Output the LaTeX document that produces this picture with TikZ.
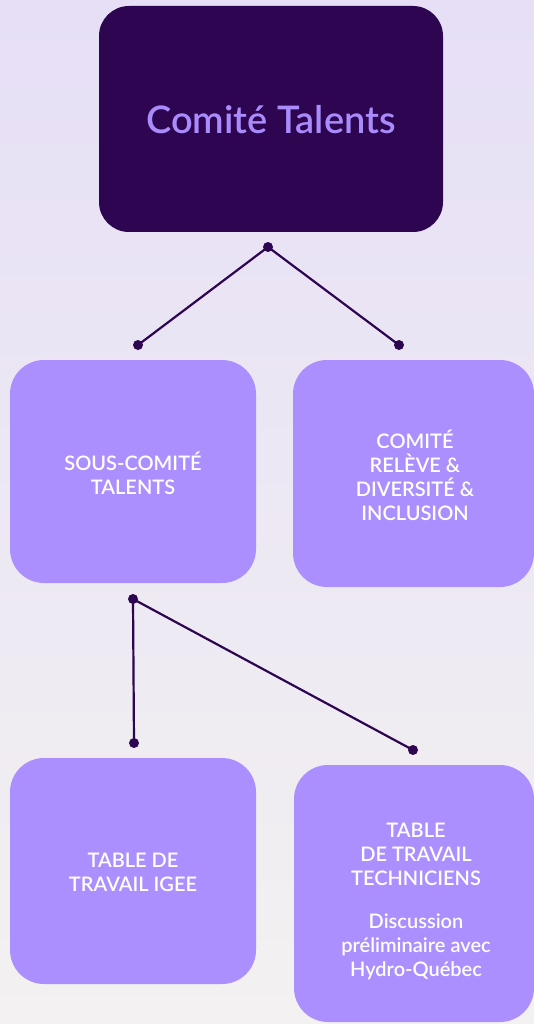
\documentclass[tikz,border=0pt]{standalone}
\usepackage{fontspec}
\setmainfont{Lato}
\newfontfamily\semib{Lato Semibold}
\definecolor{bgtop}{HTML}{E6DFF6}
\definecolor{bgbot}{HTML}{F3F1F1}
\definecolor{darkpurple}{HTML}{2D0550}
\definecolor{boxpurple}{HTML}{AB8FFE}
\definecolor{titlepurple}{HTML}{A98BFC}
\tikzset{
  topbox/.style={rectangle, rounded corners=30pt, fill=darkpurple, text=titlepurple,
    inner sep=0pt, font=\semib\fontsize{38}{44}\selectfont},
  subbox/.style={rectangle, rounded corners=34pt, fill=boxpurple, text=white,
    inner sep=0pt, align=center, font=\semib\fontsize{20}{24}\selectfont},
  dot/.style={circle, fill=darkpurple, inner sep=0pt, minimum size=10pt},
  link/.style={draw=darkpurple, line width=2.2pt}
}
\begin{document}
\begin{tikzpicture}[x=1pt,y=-1pt]
\clip (0,0) rectangle (534,1024);
\shade[top color=bgtop, bottom color=bgbot] (0,0) rectangle (534,1024);
% boxes
\node[topbox, minimum width=344pt, minimum height=226pt] (top) at (271,119) {};
\node[text=titlepurple, font=\semib\fontsize{38}{44}\selectfont] (title) at (271,120) {Comité Talents};
\node[subbox, minimum width=246pt, minimum height=223pt] (sous) at (133,471.5) {};
\node[subbox] (soust) at (133,473) {SOUS-COMITÉ\\TALENTS};
\node[subbox, minimum width=241pt, minimum height=227pt] (releve) at (413.5,473.5) {};
\node[subbox] (relevet) at (415,475) {COMITÉ\\RELÈVE \&\\DIVERSITÉ \&\\INCLUSION};
\node[subbox, minimum width=246pt, minimum height=226pt] (igee) at (133,871) {};
\node[subbox] (igeet) at (133,872) {TABLE DE\\TRAVAIL IGEE};
\node[subbox, minimum width=240pt, minimum height=257pt] (tech) at (414,893.5) {};
\node[subbox] (techt) at (416,901) {TABLE\\DE TRAVAIL\\TECHNICIENS\\[19pt]Discussion\\préliminaire avec\\Hydro-Québec};
% dots
\node[dot] (d0) at (268,247) {};
\node[dot] (d1) at (138,345) {};
\node[dot] (d2) at (399,345) {};
\node[dot] (d3) at (133,599) {};
\node[dot] (d4) at (134,743) {};
\node[dot] (d5) at (413,750) {};
% connectors
\draw[link] (d0.center) -- (d1.center);
\draw[link] (d0.center) -- (d2.center);
\draw[link] (d3.center) -- (d4.center);
\draw[link] (d3.center) -- (d5.center);
\end{tikzpicture}
\end{document}
